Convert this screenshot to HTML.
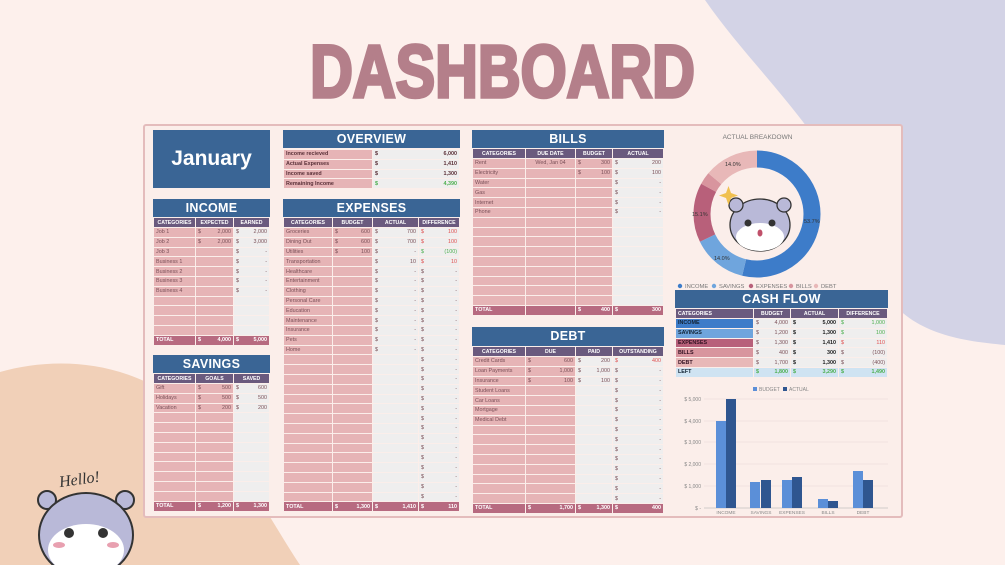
<!DOCTYPE html>
<html><head><meta charset="utf-8"><style>
*{margin:0;padding:0;box-sizing:border-box}
body{width:1005px;height:565px;overflow:hidden;background:#fdf0ec;position:relative;font-family:"Liberation Sans",sans-serif}
.a{position:absolute}
.h{position:absolute;background:#3a6595;color:#fff;font:bold 12.5px "Liberation Sans",sans-serif;text-align:center;line-height:18px;letter-spacing:.3px;height:18px}
table{position:absolute;border-collapse:collapse;table-layout:fixed;font:5.4px "Liberation Sans",sans-serif;color:#7a5058}
td{border:1px solid #fbeeea;padding:0 2px;white-space:nowrap;overflow:hidden;line-height:6px;text-align:right;height:9.8px;vertical-align:middle}
td.l{text-align:left}
td i{float:left;font-style:normal}
.s td{background:#6a5a7e;color:#fff;font-weight:bold;text-align:center;font-size:5.2px;height:10px}
.p{background:#e6b4b6}
.g{background:#efeeee}
.tot td{background:#b76a80;color:#fff;font-weight:bold;height:10px}
.r{color:#e05050}.gr{color:#4caf50}
</style></head><body>
<svg class="a" style="left:0;top:0" width="1005" height="565">
<path d="M705 0 C760 80 850 150 870 260 C890 330 950 340 1005 345 L1005 0Z" fill="#d3d3e6"/>
<path d="M0 372 C60 355 140 360 200 420 C240 460 270 520 300 565 L0 565Z" fill="#f1d0b8"/>
</svg>
<div class="a" style="left:0;top:34px;width:1005px;text-align:center;font:bold 74px 'Liberation Sans',sans-serif;color:#b47f8a;-webkit-text-stroke:3.5px #b47f8a;transform:scaleX(.8);line-height:76px">DASHBOARD</div>
<div class="a" style="left:143px;top:124px;width:760px;height:394px;background:#fbeeea;border:2px solid #e4bcbc;border-radius:3px"></div>

<div class="a" style="left:153px;top:130px;width:117px;height:58px;background:#3a6595;color:#fff;font:bold 21px 'Liberation Sans',sans-serif;text-align:center;line-height:58px">January</div>

<div class="h" style="left:283px;top:130px;width:177px">OVERVIEW</div>
<table style="left:283px;top:149px;width:177px;font-weight:bold;color:#5a3038">
<col style="width:89px"><col>
<tr><td class="p l">Income recieved</td><td class="g"><i>$</i>6,000</td></tr>
<tr><td class="p l">Actual Expenses</td><td class="g"><i>$</i>1,410</td></tr>
<tr><td class="p l">Income saved</td><td class="g"><i>$</i>1,300</td></tr>
<tr><td class="p l">Remaining Income</td><td class="g gr"><i>$</i>4,390</td></tr>
</table>

<div class="h" style="left:153px;top:199px;width:117px">INCOME</div>
<table style="left:153px;top:217px;width:117px">
<col style="width:42px"><col style="width:38px"><col>
<tr class="s"><td>CATEGORIES</td><td>EXPECTED</td><td>EARNED</td></tr>
<tr><td class="p l">Job 1</td><td class="p"><i>$</i>2,000</td><td class="g"><i>$</i>2,000</td></tr>
<tr><td class="p l">Job 2</td><td class="p"><i>$</i>2,000</td><td class="g"><i>$</i>3,000</td></tr>
<tr><td class="p l">Job 3</td><td class="p"></td><td class="g"><i>$</i>-</td></tr>
<tr><td class="p l">Business 1</td><td class="p"></td><td class="g"><i>$</i>-</td></tr>
<tr><td class="p l">Business 2</td><td class="p"></td><td class="g"><i>$</i>-</td></tr>
<tr><td class="p l">Business 3</td><td class="p"></td><td class="g"><i>$</i>-</td></tr>
<tr><td class="p l">Business 4</td><td class="p"></td><td class="g"><i>$</i>-</td></tr>
<tr><td class="p"></td><td class="p"></td><td class="g"></td></tr>
<tr><td class="p"></td><td class="p"></td><td class="g"></td></tr>
<tr><td class="p"></td><td class="p"></td><td class="g"></td></tr>
<tr><td class="p"></td><td class="p"></td><td class="g"></td></tr>
<tr class="tot"><td class="l">TOTAL</td><td><i>$</i>4,000</td><td><i>$</i>5,000</td></tr>
</table>

<div class="h" style="left:153px;top:355px;width:117px">SAVINGS</div>
<table style="left:153px;top:373px;width:117px">
<col style="width:42px"><col style="width:38px"><col>
<tr class="s"><td>CATEGORIES</td><td>GOALS</td><td>SAVED</td></tr>
<tr><td class="p l">Gift</td><td class="p"><i>$</i>500</td><td class="g"><i>$</i>600</td></tr>
<tr><td class="p l">Holidays</td><td class="p"><i>$</i>500</td><td class="g"><i>$</i>500</td></tr>
<tr><td class="p l">Vacation</td><td class="p"><i>$</i>200</td><td class="g"><i>$</i>200</td></tr>
<tr><td class="p"></td><td class="p"></td><td class="g"></td></tr>
<tr><td class="p"></td><td class="p"></td><td class="g"></td></tr>
<tr><td class="p"></td><td class="p"></td><td class="g"></td></tr>
<tr><td class="p"></td><td class="p"></td><td class="g"></td></tr>
<tr><td class="p"></td><td class="p"></td><td class="g"></td></tr>
<tr><td class="p"></td><td class="p"></td><td class="g"></td></tr>
<tr><td class="p"></td><td class="p"></td><td class="g"></td></tr>
<tr><td class="p"></td><td class="p"></td><td class="g"></td></tr>
<tr><td class="p"></td><td class="p"></td><td class="g"></td></tr>
<tr class="tot"><td class="l">TOTAL</td><td><i>$</i>1,200</td><td><i>$</i>1,300</td></tr>
</table>

<div class="h" style="left:283px;top:199px;width:177px">EXPENSES</div>
<table style="left:283px;top:217px;width:177px">
<col style="width:49px"><col style="width:40px"><col style="width:46px"><col>
<tr class="s"><td>CATEGORIES</td><td>BUDGET</td><td>ACTUAL</td><td>DIFFERENCE</td></tr>
<tr><td class="p l">Groceries</td><td class="p"><i>$</i>600</td><td class="g"><i>$</i>700</td><td class="g r"><i>$</i>100</td></tr>
<tr><td class="p l">Dining Out</td><td class="p"><i>$</i>600</td><td class="g"><i>$</i>700</td><td class="g r"><i>$</i>100</td></tr>
<tr><td class="p l">Utilities</td><td class="p"><i>$</i>100</td><td class="g"><i>$</i>-</td><td class="g gr"><i>$</i>(100)</td></tr>
<tr><td class="p l">Transportation</td><td class="p"></td><td class="g"><i>$</i>10</td><td class="g r"><i>$</i>10</td></tr>
<tr><td class="p l">Healthcare</td><td class="p"></td><td class="g"><i>$</i>-</td><td class="g"><i>$</i>-</td></tr>
<tr><td class="p l">Entertainment</td><td class="p"></td><td class="g"><i>$</i>-</td><td class="g"><i>$</i>-</td></tr>
<tr><td class="p l">Clothing</td><td class="p"></td><td class="g"><i>$</i>-</td><td class="g"><i>$</i>-</td></tr>
<tr><td class="p l">Personal Care</td><td class="p"></td><td class="g"><i>$</i>-</td><td class="g"><i>$</i>-</td></tr>
<tr><td class="p l">Education</td><td class="p"></td><td class="g"><i>$</i>-</td><td class="g"><i>$</i>-</td></tr>
<tr><td class="p l">Maintenance</td><td class="p"></td><td class="g"><i>$</i>-</td><td class="g"><i>$</i>-</td></tr>
<tr><td class="p l">Insurance</td><td class="p"></td><td class="g"><i>$</i>-</td><td class="g"><i>$</i>-</td></tr>
<tr><td class="p l">Pets</td><td class="p"></td><td class="g"><i>$</i>-</td><td class="g"><i>$</i>-</td></tr>
<tr><td class="p l">Home</td><td class="p"></td><td class="g"><i>$</i>-</td><td class="g"><i>$</i>-</td></tr>
<tr><td class="p"></td><td class="p"></td><td class="g"></td><td class="g"><i>$</i>-</td></tr>
<tr><td class="p"></td><td class="p"></td><td class="g"></td><td class="g"><i>$</i>-</td></tr>
<tr><td class="p"></td><td class="p"></td><td class="g"></td><td class="g"><i>$</i>-</td></tr>
<tr><td class="p"></td><td class="p"></td><td class="g"></td><td class="g"><i>$</i>-</td></tr>
<tr><td class="p"></td><td class="p"></td><td class="g"></td><td class="g"><i>$</i>-</td></tr>
<tr><td class="p"></td><td class="p"></td><td class="g"></td><td class="g"><i>$</i>-</td></tr>
<tr><td class="p"></td><td class="p"></td><td class="g"></td><td class="g"><i>$</i>-</td></tr>
<tr><td class="p"></td><td class="p"></td><td class="g"></td><td class="g"><i>$</i>-</td></tr>
<tr><td class="p"></td><td class="p"></td><td class="g"></td><td class="g"><i>$</i>-</td></tr>
<tr><td class="p"></td><td class="p"></td><td class="g"></td><td class="g"><i>$</i>-</td></tr>
<tr><td class="p"></td><td class="p"></td><td class="g"></td><td class="g"><i>$</i>-</td></tr>
<tr><td class="p"></td><td class="p"></td><td class="g"></td><td class="g"><i>$</i>-</td></tr>
<tr><td class="p"></td><td class="p"></td><td class="g"></td><td class="g"><i>$</i>-</td></tr>
<tr><td class="p"></td><td class="p"></td><td class="g"></td><td class="g"><i>$</i>-</td></tr>
<tr><td class="p"></td><td class="p"></td><td class="g"></td><td class="g"><i>$</i>-</td></tr>
<tr class="tot"><td class="l">TOTAL</td><td><i>$</i>1,300</td><td><i>$</i>1,410</td><td><i>$</i>110</td></tr>
</table>

<div class="h" style="left:472px;top:130px;width:192px">BILLS</div>
<table style="left:472px;top:148px;width:192px">
<col style="width:53px"><col style="width:50px"><col style="width:37px"><col>
<tr class="s"><td>CATEGORIES</td><td>DUE DATE</td><td>BUDGET</td><td>ACTUAL</td></tr>
<tr><td class="p l">Rent</td><td class="p" style="text-align:center">Wed, Jan 04</td><td class="p"><i>$</i>300</td><td class="g"><i>$</i>200</td></tr>
<tr><td class="p l">Electricity</td><td class="p"></td><td class="p"><i>$</i>100</td><td class="g"><i>$</i>100</td></tr>
<tr><td class="p l">Water</td><td class="p"></td><td class="p"></td><td class="g"><i>$</i>-</td></tr>
<tr><td class="p l">Gas</td><td class="p"></td><td class="p"></td><td class="g"><i>$</i>-</td></tr>
<tr><td class="p l">Internet</td><td class="p"></td><td class="p"></td><td class="g"><i>$</i>-</td></tr>
<tr><td class="p l">Phone</td><td class="p"></td><td class="p"></td><td class="g"><i>$</i>-</td></tr>
<tr><td class="p"></td><td class="p"></td><td class="p"></td><td class="g"></td></tr>
<tr><td class="p"></td><td class="p"></td><td class="p"></td><td class="g"></td></tr>
<tr><td class="p"></td><td class="p"></td><td class="p"></td><td class="g"></td></tr>
<tr><td class="p"></td><td class="p"></td><td class="p"></td><td class="g"></td></tr>
<tr><td class="p"></td><td class="p"></td><td class="p"></td><td class="g"></td></tr>
<tr><td class="p"></td><td class="p"></td><td class="p"></td><td class="g"></td></tr>
<tr><td class="p"></td><td class="p"></td><td class="p"></td><td class="g"></td></tr>
<tr><td class="p"></td><td class="p"></td><td class="p"></td><td class="g"></td></tr>
<tr><td class="p"></td><td class="p"></td><td class="p"></td><td class="g"></td></tr>
<tr class="tot"><td class="l">TOTAL</td><td></td><td><i>$</i>400</td><td><i>$</i>300</td></tr>
</table>

<div class="h" style="left:472px;top:327px;width:192px;height:19px">DEBT</div>
<table style="left:472px;top:346px;width:192px">
<col style="width:53px"><col style="width:50px"><col style="width:37px"><col>
<tr class="s"><td>CATEGORIES</td><td>DUE</td><td>PAID</td><td>OUTSTANDING</td></tr>
<tr><td class="p l">Credit Cards</td><td class="p"><i>$</i>600</td><td class="g"><i>$</i>200</td><td class="g r"><i>$</i>400</td></tr>
<tr><td class="p l">Loan Payments</td><td class="p"><i>$</i>1,000</td><td class="g"><i>$</i>1,000</td><td class="g"><i>$</i>-</td></tr>
<tr><td class="p l">Insurance</td><td class="p"><i>$</i>100</td><td class="g"><i>$</i>100</td><td class="g"><i>$</i>-</td></tr>
<tr><td class="p l">Student Loans</td><td class="p"></td><td class="g"></td><td class="g"><i>$</i>-</td></tr>
<tr><td class="p l">Car Loans</td><td class="p"></td><td class="g"></td><td class="g"><i>$</i>-</td></tr>
<tr><td class="p l">Mortgage</td><td class="p"></td><td class="g"></td><td class="g"><i>$</i>-</td></tr>
<tr><td class="p l">Medical Debt</td><td class="p"></td><td class="g"></td><td class="g"><i>$</i>-</td></tr>
<tr><td class="p"></td><td class="p"></td><td class="g"></td><td class="g"><i>$</i>-</td></tr>
<tr><td class="p"></td><td class="p"></td><td class="g"></td><td class="g"><i>$</i>-</td></tr>
<tr><td class="p"></td><td class="p"></td><td class="g"></td><td class="g"><i>$</i>-</td></tr>
<tr><td class="p"></td><td class="p"></td><td class="g"></td><td class="g"><i>$</i>-</td></tr>
<tr><td class="p"></td><td class="p"></td><td class="g"></td><td class="g"><i>$</i>-</td></tr>
<tr><td class="p"></td><td class="p"></td><td class="g"></td><td class="g"><i>$</i>-</td></tr>
<tr><td class="p"></td><td class="p"></td><td class="g"></td><td class="g"><i>$</i>-</td></tr>
<tr><td class="p"></td><td class="p"></td><td class="g"></td><td class="g"><i>$</i>-</td></tr>
<tr class="tot"><td class="l">TOTAL</td><td><i>$</i>1,700</td><td><i>$</i>1,300</td><td><i>$</i>400</td></tr>
</table>

<!-- donut -->
<div class="a" style="left:700px;top:134px;width:115px;text-align:center;font:6.5px 'Liberation Sans',sans-serif;color:#777">ACTUAL BREAKDOWN</div>
<svg class="a" style="left:670px;top:125px" width="230" height="170">
<g transform="translate(87,89) rotate(-90)">
<circle r="55" fill="none" stroke="#3d7cc9" stroke-width="17" stroke-dasharray="185.6 400" stroke-dashoffset="0"/>
<circle r="55" fill="none" stroke="#6fa5dd" stroke-width="17" stroke-dasharray="48.4 400" stroke-dashoffset="-185.6"/>
<circle r="55" fill="none" stroke="#b8607a" stroke-width="17" stroke-dasharray="52.2 400" stroke-dashoffset="-234"/>
<circle r="55" fill="none" stroke="#d8959e" stroke-width="17" stroke-dasharray="11 400" stroke-dashoffset="-286.2"/>
<circle r="55" fill="none" stroke="#e8b8b8" stroke-width="17" stroke-dasharray="48.4 400" stroke-dashoffset="-297.2"/>
</g>
<g font-family="Liberation Sans" font-size="5.5" fill="#333">
<text x="134" y="98">53.7%</text><text x="44" y="135">14.0%</text><text x="22" y="91">15.1%</text><text x="55" y="41">14.0%</text>
</g>
<ellipse cx="90" cy="100" rx="30" ry="26" fill="#b9b9d8" stroke="#333" stroke-width="1.3"/>
<ellipse cx="90" cy="112" rx="24" ry="14" fill="#fff"/>
<circle cx="66" cy="80" r="7" fill="#b9b9d8" stroke="#333" stroke-width="1.3"/>
<circle cx="114" cy="80" r="7" fill="#b9b9d8" stroke="#333" stroke-width="1.3"/>
<circle cx="78" cy="98" r="3.5" fill="#333"/><circle cx="102" cy="98" r="3.5" fill="#333"/>
<ellipse cx="90" cy="108" rx="2.5" ry="3.5" fill="#c0506a"/>
<path d="M56 68 l2.5 -7 l2.5 7 l7 2.5 l-7 2.5 l-2.5 7 l-2.5 -7 l-7 -2.5z" fill="#f0c050"/>
<g font-family="Liberation Sans" font-size="5.8" fill="#777">
<circle cx="10" cy="161" r="2.2" fill="#3d7cc9"/><text x="15" y="163">INCOME</text>
<circle cx="44" cy="161" r="2.2" fill="#6fa5dd"/><text x="49" y="163">SAVINGS</text>
<circle cx="81" cy="161" r="2.2" fill="#b8607a"/><text x="86" y="163">EXPENSES</text>
<circle cx="121" cy="161" r="2.2" fill="#d8959e"/><text x="126" y="163">BILLS</text>
<circle cx="146" cy="161" r="2.2" fill="#e8b8b8"/><text x="151" y="163">DEBT</text>
</g>
</svg>

<div class="h" style="left:675px;top:290px;width:213px">CASH FLOW</div>
<table style="left:675px;top:308px;width:213px">
<col style="width:78px"><col style="width:37px"><col style="width:48px"><col>
<tr class="s"><td class="l" style="text-align:left">CATEGORIES</td><td>BUDGET</td><td>ACTUAL</td><td>DIFFERENCE</td></tr>
<tr><td class="l" style="background:#3d7cc9;color:#123;font-weight:bold">INCOME</td><td class="g"><i>$</i>4,000</td><td class="g" style="font-weight:bold;color:#222"><i>$</i>5,000</td><td class="g gr"><i>$</i>1,000</td></tr>
<tr><td class="l" style="background:#6fa5dd;color:#123;font-weight:bold">SAVINGS</td><td class="g"><i>$</i>1,200</td><td class="g" style="font-weight:bold;color:#222"><i>$</i>1,300</td><td class="g gr"><i>$</i>100</td></tr>
<tr><td class="l" style="background:#b8607a;color:#312;font-weight:bold">EXPENSES</td><td class="g"><i>$</i>1,300</td><td class="g" style="font-weight:bold;color:#222"><i>$</i>1,410</td><td class="g r"><i>$</i>110</td></tr>
<tr><td class="l" style="background:#d8959e;color:#312;font-weight:bold">BILLS</td><td class="g"><i>$</i>400</td><td class="g" style="font-weight:bold;color:#222"><i>$</i>300</td><td class="g"><i>$</i>(100)</td></tr>
<tr><td class="l" style="background:#e8b8b8;color:#312;font-weight:bold">DEBT</td><td class="g"><i>$</i>1,700</td><td class="g" style="font-weight:bold;color:#222"><i>$</i>1,300</td><td class="g"><i>$</i>(400)</td></tr>
<tr style="background:#cfe3f2;font-weight:bold"><td class="l" style="color:#123">LEFT</td><td class="gr"><i>$</i>1,800</td><td class="gr"><i>$</i>3,290</td><td class="gr"><i>$</i>1,490</td></tr>
</table>

<!-- bar chart -->
<svg class="a" style="left:670px;top:380px" width="230" height="140">
<g font-family="Liberation Sans" font-size="5" fill="#888">
<rect x="83" y="7" width="4" height="4" fill="#5b8fd8"/><text x="89" y="11">BUDGET</text>
<rect x="113" y="7" width="4" height="4" fill="#2f5690"/><text x="119" y="11">ACTUAL</text>
<g stroke="#e6d6d6" stroke-width=".6">
<line x1="34" x2="218" y1="19" y2="19"/><line x1="34" x2="218" y1="41" y2="41"/><line x1="34" x2="218" y1="62" y2="62"/><line x1="34" x2="218" y1="84" y2="84"/><line x1="34" x2="218" y1="106" y2="106"/>
<line x1="34" x2="218" y1="128" y2="128" stroke="#aaa"/></g>
<g text-anchor="end"><text x="31" y="21">$ 5,000</text><text x="31" y="43">$ 4,000</text><text x="31" y="64">$ 3,000</text><text x="31" y="86">$ 2,000</text><text x="31" y="108">$ 1,000</text><text x="31" y="130">$ -</text></g>
<g fill="#5b8fd8"><rect x="46" y="41" width="10" height="87"/><rect x="80" y="102" width="10" height="26"/><rect x="112" y="100" width="10" height="28"/><rect x="148" y="119" width="10" height="9"/><rect x="183" y="91" width="10" height="37"/></g>
<g fill="#2f5690"><rect x="56" y="19" width="10" height="109"/><rect x="91" y="100" width="10" height="28"/><rect x="122" y="97" width="10" height="31"/><rect x="158" y="121" width="10" height="7"/><rect x="193" y="100" width="10" height="28"/></g>
<g text-anchor="middle" font-size="4.8"><text x="56" y="134">INCOME</text><text x="91" y="134">SAVINGS</text><text x="122" y="134">EXPENSES</text><text x="158" y="134">BILLS</text><text x="193" y="134">DEBT</text></g>
</g>
</svg>

<!-- hello hamster -->
<svg class="a" style="left:25px;top:465px" width="120" height="100">
<text x="34" y="20" font-family="Liberation Serif" font-style="italic" font-size="16" fill="#333" transform="rotate(-8 50 15)">Hello!</text>
<circle cx="22" cy="35" r="9" fill="#b9b9d8" stroke="#333" stroke-width="2"/>
<circle cx="100" cy="35" r="9" fill="#b9b9d8" stroke="#333" stroke-width="2"/>
<ellipse cx="61" cy="70" rx="47" ry="42" fill="#b9b9d8" stroke="#333" stroke-width="2"/>
<ellipse cx="61" cy="85" rx="38" ry="26" fill="#fff"/>
<circle cx="44" cy="68" r="5" fill="#333"/><circle cx="78" cy="68" r="5" fill="#333"/>
<ellipse cx="34" cy="80" rx="6" ry="3" fill="#e8a0b0"/><ellipse cx="88" cy="80" rx="6" ry="3" fill="#e8a0b0"/>
</svg>
</body></html>
